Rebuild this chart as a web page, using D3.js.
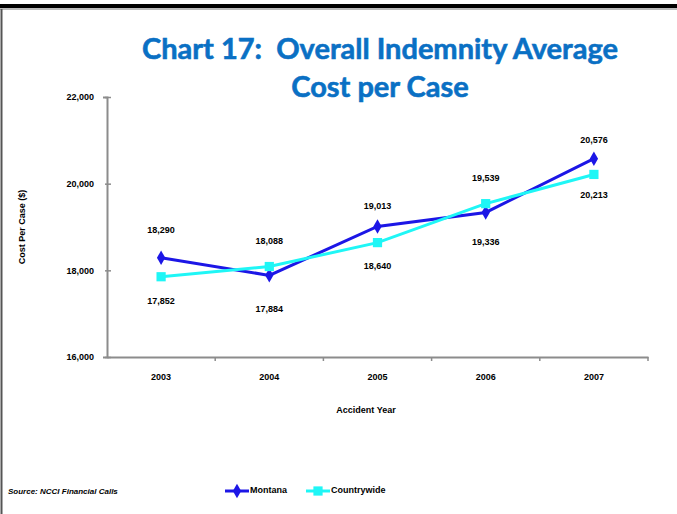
<!DOCTYPE html>
<html>
<head>
<meta charset="utf-8">
<script src="https://cdn.jsdelivr.net/npm/d3@7"></script>
<style>
  body { margin: 0; background: #fff; }
  svg { display: block; }
  .tick text { font-family: "Liberation Sans", Arial, sans-serif; font-weight: bold; font-size: 9px; fill: #000; }
</style>
</head>
<body>
<div id="chart"></div>
<script>
// chart values
const years = ['2003', '2004', '2005', '2006', '2007'];
const montana = [18290, 17884, 19013, 19336, 20576];
const countrywide = [17852, 18088, 18640, 19539, 20213];
const yTicks = [16000, 18000, 20000, 22000];

const width = 677, height = 514;
const margin = { top: 97, right: 29, bottom: 157, left: 107 };

const svg = d3.select('#chart').append('svg')
  .attr('width', width)
  .attr('height', height);

// frame
svg.append('rect').attr('x', 0).attr('y', 4).attr('width', width).attr('height', 4).attr('fill', '#000');
svg.append('line').attr('x1', 0).attr('x2', width).attr('y1', 9).attr('y2', 9).attr('stroke', '#777').attr('stroke-width', 1);
svg.append('line').attr('x1', 1.5).attr('x2', 1.5).attr('y1', 9).attr('y2', height).attr('stroke', '#555').attr('stroke-width', 2);

// title
const title = svg.append('text')
  .attr('text-anchor', 'middle')
  .attr('font-family', 'Lato, "Open Sans", sans-serif')
  .attr('font-weight', 'bold')
  .attr('font-size', 29)
  .attr('fill', '#0a70c4')
  .attr('stroke', '#0a70c4')
  .attr('stroke-width', 0.6)
  .style('white-space', 'pre');
title.append('tspan').attr('x', 380).attr('y', 59).text('Chart 17:\u00a0 Overall Indemnity Average');
title.append('tspan').attr('x', 380).attr('y', 97).text('Cost per Case');

const x = d3.scaleBand()
  .domain(years)
  .range([margin.left, width - margin.right]);

const y = d3.scaleLinear()
  .domain([16000, 22000])
  .range([height - margin.bottom, margin.top]);

// axes
const yAxis = svg.append('g')
  .attr('transform', `translate(${margin.left},0)`)
  .call(d3.axisLeft(y).tickValues(yTicks).tickSize(4).tickPadding(9).tickFormat(d3.format(',')));

const xAxis = svg.append('g')
  .attr('transform', `translate(0,${height - margin.bottom})`)
  .call(d3.axisBottom(x).tickSize(0).tickPadding(17));

[yAxis, xAxis].forEach(g => {
  g.select('.domain').attr('stroke', '#8c8c8c').attr('stroke-width', 2);
  g.selectAll('.tick line').attr('stroke', '#8c8c8c').attr('stroke-width', 1.5);
});
yAxis.selectAll('.tick line').attr('x1', 4).attr('x2', -2);

// x category boundary ticks
xAxis.selectAll('.bound')
  .data(years)
  .join('line')
  .attr('class', 'bound')
  .attr('x1', d => x(d) + x.bandwidth())
  .attr('x2', d => x(d) + x.bandwidth())
  .attr('y1', 0).attr('y2', 4)
  .attr('stroke', '#8c8c8c').attr('stroke-width', 1.5);

// axis titles
svg.append('text')
  .attr('transform', `translate(25,${(margin.top + height - margin.bottom) / 2}) rotate(-90)`)
  .attr('text-anchor', 'middle')
  .attr('font-family', '"Liberation Sans", Arial, sans-serif')
  .attr('font-weight', 'bold')
  .attr('font-size', 9)
  .text('Cost Per Case ($)');

svg.append('text')
  .attr('x', 366).attr('y', 413)
  .attr('text-anchor', 'middle')
  .attr('font-family', '"Liberation Sans", Arial, sans-serif')
  .attr('font-weight', 'bold')
  .attr('font-size', 9)
  .text('Accident Year');

const cx = d => x(d) + x.bandwidth() / 2;
const line = d3.line().x(d => cx(d.year)).y(d => y(d.value));

const series = [
  { name: 'Montana', values: montana, color: '#1c16e6', symbol: d3.symbolDiamond, size: 60,
    dy: [-27, 34, -20, 30, -18] },
  { name: 'Countrywide', values: countrywide, color: '#1ff6f6', symbol: d3.symbolSquare, size: 85,
    dy: [25, -25, 24, -25, 21] }
];

series.forEach(s => {
  s.pts = years.map((yr, i) => ({ year: yr, value: s.values[i] }));
});

series.forEach(s => {
  svg.append('path')
    .datum(s.pts)
    .attr('fill', 'none')
    .attr('stroke', s.color)
    .attr('stroke-width', 3)
    .attr('d', line);
  svg.selectAll(null)
    .data(s.pts)
    .join('path')
    .attr('transform', d => `translate(${cx(d.year)},${y(d.value)})`)
    .attr('d', d3.symbol(s.symbol, s.size))
    .attr('fill', s.color);
});

// data labels
series.forEach(s => {
  svg.selectAll(null)
    .data(s.pts)
    .join('text')
    .attr('x', d => cx(d.year))
    .attr('y', (d, i) => y(d.value) + s.dy[i])
    .attr('text-anchor', 'middle')
    .attr('dominant-baseline', 'middle')
    .attr('font-family', '"Liberation Sans", Arial, sans-serif')
    .attr('font-weight', 'bold')
    .attr('font-size', 9)
    .text(d => d3.format(',')(d.value));
});

// source
svg.append('text')
  .attr('x', 8).attr('y', 494)
  .attr('font-family', '"Liberation Sans", Arial, sans-serif')
  .attr('font-weight', 'bold')
  .attr('font-style', 'italic')
  .attr('font-size', 8)
  .text('Source: NCCI Financial Calls');

// legend
const legend = svg.append('g').attr('transform', 'translate(225,491)');
series.forEach((s, i) => {
  const g = legend.append('g').attr('transform', `translate(${i * 81},0)`);
  g.append('line').attr('x1', 0).attr('x2', 24).attr('stroke', s.color).attr('stroke-width', 3);
  g.append('path').attr('transform', 'translate(12,0)').attr('d', d3.symbol(s.symbol, s.size)).attr('fill', s.color);
  g.append('text').attr('x', 25).attr('y', 0)
    .attr('dominant-baseline', 'middle')
    .attr('font-family', '"Liberation Sans", Arial, sans-serif')
    .attr('font-weight', 'bold')
    .attr('font-size', 9)
    .text(s.name);
});
</script>
</body>
</html>
